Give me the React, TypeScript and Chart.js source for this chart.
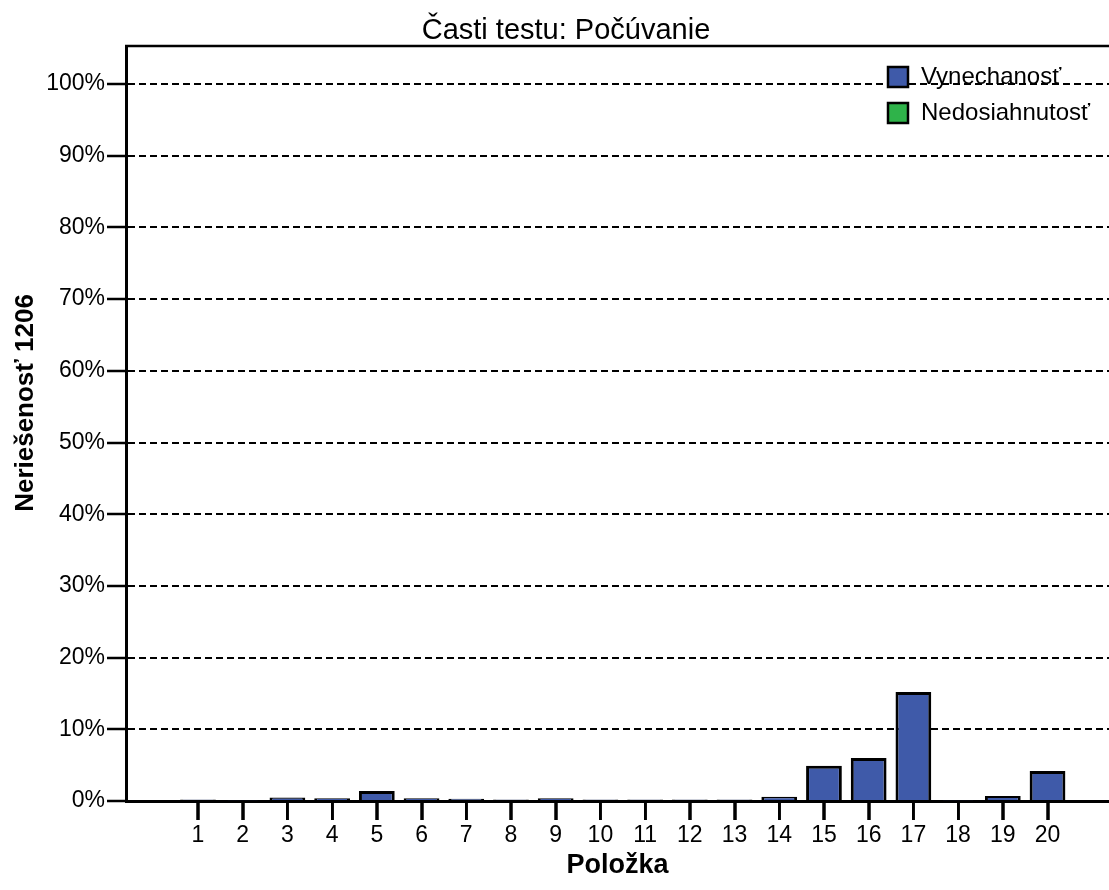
import React, { useEffect, useRef } from "react";
import { Chart, registerables } from "chart.js";

Chart.register(...registerables);

const items = [1, 2, 3, 4, 5, 6, 7, 8, 9, 10, 11, 12, 13, 14, 15, 16, 17, 18, 19, 20];
const vynechanost = [0.2, 0.1, 0.5, 0.4, 1.4, 0.4, 0.3, 0.2, 0.4, 0.2, 0.2, 0.2, 0.2, 0.6, 4.9, 6.0, 15.2, 0.1, 0.7, 4.2];
const nedosiahnutost = [0, 0, 0, 0, 0, 0, 0, 0, 0, 0, 0, 0, 0, 0, 0, 0, 0, 0, 0, 0];
const yTicks = [0, 10, 20, 30, 40, 50, 60, 70, 80, 90, 100];
const seriesNames = ["Vynechanosť", "Nedosiahnutosť"];
const seriesColors = ["#3f5aa9", "#2fb34a"];
const titleText = "Časti testu: Počúvanie";
const yTitle = "Neriešenosť 1206";
const xTitle = "Položka";

const FONT = "'Liberation Sans', Arial, sans-serif";

function drawTicks(chart: any) {
  const ctx = chart.ctx;
  const a = chart.chartArea;
  const xs = chart.scales.x;
  ctx.save();
  ctx.setLineDash([]);
  ctx.globalAlpha = 1;
  ctx.globalCompositeOperation = "source-over";
  ctx.fillStyle = "#000";
  items.forEach((v) => {
    const px = Math.round(xs.getPixelForValue(v));
    ctx.fillRect(px - 1, a.bottom, 2.5, 19);
  });
  ctx.restore();
}

export default function App() {
  const ref = useRef<HTMLCanvasElement | null>(null);
  useEffect(() => {
    const canvas = ref.current!;
    const overlay = {
      id: "overlay",
      afterDraw(chart: any) {
        const ctx = chart.ctx;
        const a = chart.chartArea;
        drawTicks(chart);
        ctx.save();
        ctx.setLineDash([]);
        ctx.globalAlpha = 1;
        ctx.globalCompositeOperation = "source-over";
        // top border
        ctx.strokeStyle = "#000";
        ctx.lineWidth = 2.5;
        ctx.beginPath();
        ctx.moveTo(a.left - 1, a.top);
        ctx.lineTo(a.right, a.top);
        ctx.stroke();
        // title
        ctx.fillStyle = "#000";
        ctx.textAlign = "center";
        ctx.textBaseline = "middle";
        ctx.font = `29px ${FONT}`;
        ctx.fillText(titleText, 566, 31);
        // x title
        ctx.font = `bold 27px ${FONT}`;
        ctx.fillText(xTitle, (a.left + a.right) / 2, 866);
        // y title
        ctx.save();
        ctx.translate(26, 403);
        ctx.rotate(-Math.PI / 2);
        ctx.font = `bold 26px ${FONT}`;
        ctx.fillText(yTitle, 0, 0);
        ctx.restore();
        // legend
        ctx.textAlign = "left";
        ctx.font = `24px ${FONT}`;
        seriesNames.forEach((name, i) => {
          const y = 67 + i * 36;
          ctx.fillStyle = seriesColors[i];
          ctx.fillRect(888, y, 20, 20);
          ctx.strokeStyle = "#000";
          ctx.lineWidth = 2.5;
          ctx.strokeRect(888, y, 20, 20);
          ctx.fillStyle = "#000";
          ctx.fillText(name, 921, y + 10);
        });
        ctx.restore();
      },
      afterRender(chart: any) {
        drawTicks(chart);
      },
    };
    const chart = new Chart(canvas, {
      type: "bar",
      data: {
        datasets: [
          {
            label: seriesNames[0],
            data: items.map((x, i) => ({ x, y: vynechanost[i] })),
            backgroundColor: seriesColors[0],
            borderColor: "#000",
            borderWidth: 3,
            barPercentage: 0.8,
            categoryPercentage: 1,
          },
          {
            label: seriesNames[1],
            data: items.map((x, i) => ({ x, y: nedosiahnutost[i] })),
            backgroundColor: seriesColors[1],
            borderColor: "#000",
            borderWidth: 3,
            barPercentage: 0.8,
            categoryPercentage: 1,
          },
        ],
      },
      options: {
        animation: false,
        responsive: false,
        maintainAspectRatio: false,
        layout: { padding: { left: 0, top: 46, right: 0, bottom: 0 } },
        plugins: {
          legend: { display: false },
          title: { display: false },
          tooltip: { enabled: false },
        },
        scales: {
          x: {
            type: "linear",
            stacked: true,
            offset: false,
            min: -0.61,
            max: 21.375,
            afterBuildTicks: (s: any) => {
              s.ticks = items.map((v) => ({ value: v }));
            },
            afterFit: (s: any) => {
              s.height = 89;
            },
            grid: {
              offset: false,
              drawOnChartArea: false,
              drawTicks: true,
              tickLength: 19,
              tickColor: "#000",
              tickWidth: 2.5,
            },
            border: { display: true, color: "#000", width: 3 },
            ticks: {
              autoSkip: false,
              maxRotation: 0,
              padding: 2,
              color: "#000",
              font: { family: FONT, size: 23 },
              callback: (v: any) => String(v),
            },
          },
          y: {
            type: "linear",
            stacked: true,
            min: 0,
            max: 105.3,
            afterBuildTicks: (s: any) => {
              s.ticks = yTicks.map((v) => ({ value: v }));
            },
            afterFit: (s: any) => {
              s.width = 126;
            },
            grid: {
              color: "#000",
              lineWidth: 2,
              drawTicks: true,
              tickLength: 19,
              tickColor: "#000",
              tickWidth: 2.5,
              tickBorderDash: [],
            },
            border: { display: true, color: "#000", width: 3, dash: [7, 4] },
            ticks: {
              padding: 2,
              color: "#000",
              font: { family: FONT, size: 23 },
              callback: (v: any) => `${v}%`,
            },
          },
        },
      },
      plugins: [overlay],
    } as any);
    return () => chart.destroy();
  }, []);
  return (
    <div style={{ position: "fixed", left: 0, top: 0, width: 1109, height: 890, overflow: "hidden", background: "#fff" }}>
      <canvas ref={ref} width={1109} height={890} style={{ width: 1109, height: 890, display: "block" }} />
    </div>
  );
}
